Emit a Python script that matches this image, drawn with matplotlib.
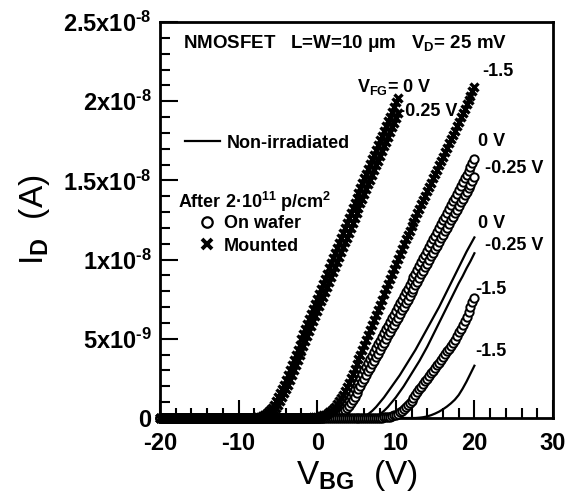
import numpy as np
import matplotlib
matplotlib.use('Agg')
import matplotlib.pyplot as plt
from matplotlib.lines import Line2D
from matplotlib.ticker import MultipleLocator

plt.rcParams['font.family'] = 'Liberation Sans'
plt.rcParams['font.weight'] = 'bold'
plt.rcParams['axes.unicode_minus'] = False
plt.rcParams['mathtext.fontset'] = 'custom'
plt.rcParams['mathtext.rm'] = 'Liberation Sans:bold'
plt.rcParams['mathtext.it'] = 'Liberation Sans:bold'
plt.rcParams['mathtext.bf'] = 'Liberation Sans:bold'
plt.rcParams['mathtext.sf'] = 'Liberation Sans:bold'

# V_BG sweep starts at -20 V; I_D is ~0 before the first listed value
V_START = -20.0
STEP_SYM = 0.25   # symbol curves
STEP_LINE = 0.5   # non-irradiated curves

# I_D in nA, listed from the given start voltage upward
mounted_0_start = -8.0
mounted_0 = [0.02, 0.03, 0.05, 0.08, 0.12, 0.18, 0.26, 0.36, 0.5, 0.66, 0.85, 1.06,
             1.3, 1.55, 1.82, 2.1, 2.4, 2.72, 3.04, 3.36, 3.68, 4.0, 4.32, 4.64,
             4.96, 5.28, 5.6, 5.92, 6.24, 6.56, 6.88, 7.2, 7.52, 7.84, 8.16, 8.48,
             8.8, 9.12, 9.44, 9.76, 10.08, 10.4, 10.72, 11.04, 11.36, 11.68, 12.0, 12.32,
             12.64, 12.96, 13.28, 13.6, 13.92, 14.22, 14.52, 14.82, 15.12, 15.42, 15.72, 16.02,
             16.32, 16.62, 16.92, 17.22, 17.52, 17.82, 18.12, 18.42, 18.72, 19.02, 19.32, 19.62,
             19.92, 20.2]

mounted_025_start = -7.5
mounted_025 = [0.02, 0.03, 0.05, 0.08, 0.12, 0.18, 0.26, 0.36, 0.5, 0.66, 0.85, 1.06,
               1.3, 1.55, 1.82, 2.1, 2.4, 2.71, 3.02, 3.33, 3.64, 3.95, 4.26, 4.57,
               4.88, 5.19, 5.5, 5.81, 6.12, 6.43, 6.74, 7.05, 7.36, 7.67, 7.98, 8.29,
               8.6, 8.91, 9.22, 9.53, 9.84, 10.15, 10.46, 10.77, 11.08, 11.39, 11.7, 12.01,
               12.32, 12.63, 12.94, 13.25, 13.55, 13.85, 14.15, 14.45, 14.75, 15.05, 15.35, 15.65,
               15.95, 16.25, 16.55, 16.85, 17.15, 17.45, 17.75, 18.05, 18.35, 18.65, 18.95, 19.25]

mounted_15_start = -1.0
mounted_15 = [0.02, 0.03, 0.04, 0.05, 0.07, 0.09, 0.12, 0.16, 0.21, 0.27, 0.35, 0.45,
              0.57, 0.71, 0.87, 1.05, 1.25, 1.47, 1.7, 1.95, 2.2, 2.5, 2.8, 3.1,
              3.4, 3.7, 4.0, 4.3, 4.6, 4.92, 5.24, 5.56, 5.88, 6.2, 6.52, 6.84,
              7.16, 7.48, 7.8, 8.12, 8.44, 8.76, 9.08, 9.4, 9.72, 10.04, 10.36, 10.68,
              11.0, 11.28, 11.55, 11.83, 12.1, 12.38, 12.65, 12.93, 13.2, 13.48, 13.75, 14.03,
              14.3, 14.58, 14.85, 15.13, 15.4, 15.68, 15.95, 16.23, 16.5, 16.78, 17.05, 17.33,
              17.6, 17.88, 18.15, 18.43, 18.7, 18.98, 19.25, 19.53, 19.8, 20.08, 20.35, 20.63,
              20.9]

wafer_0_start = 0.0
wafer_0 = [0.02, 0.03, 0.04, 0.05, 0.07, 0.09, 0.12, 0.15, 0.19, 0.24, 0.31, 0.4,
           0.5, 0.62, 0.76, 0.93, 1.12, 1.36, 1.59, 1.83, 2.06, 2.3, 2.53, 2.77,
           3.0, 3.24, 3.47, 3.71, 3.94, 4.18, 4.41, 4.65, 4.88, 5.12, 5.35, 5.59,
           5.82, 6.06, 6.29, 6.53, 6.76, 7.0, 7.23, 7.47, 7.7, 7.94, 8.17, 8.41,
           8.64, 8.88, 9.12, 9.36, 9.6, 9.84, 10.08, 10.32, 10.56, 10.8, 11.04, 11.28,
           11.52, 11.76, 12.0, 12.24, 12.48, 12.72, 12.96, 13.2, 13.44, 13.68, 13.92, 14.16,
           14.4, 14.64, 14.88, 15.12, 15.36, 15.6, 15.84, 16.08, 16.32]

wafer_025_start = 0.5
wafer_025 = [0.02, 0.03, 0.04, 0.05, 0.07, 0.09, 0.12, 0.15, 0.19, 0.24, 0.31, 0.4,
             0.5, 0.62, 0.76, 0.93, 1.12, 1.35, 1.57, 1.8, 2.03, 2.26, 2.48, 2.71,
             2.94, 3.16, 3.39, 3.62, 3.84, 4.07, 4.3, 4.53, 4.75, 4.98, 5.21, 5.43,
             5.66, 5.89, 6.11, 6.34, 6.57, 6.8, 7.02, 7.25, 7.48, 7.7, 7.93, 8.16,
             8.38, 8.61, 8.84, 9.07, 9.29, 9.52, 9.75, 9.97, 10.2, 10.43, 10.65, 10.88,
             11.11, 11.34, 11.56, 11.79, 12.02, 12.24, 12.47, 12.7, 12.92, 13.15, 13.38, 13.61,
             13.83, 14.06, 14.29, 14.51, 14.74, 14.97, 15.2]

wafer_15_start = 8.0
wafer_15 = [0.02, 0.03, 0.04, 0.05, 0.07, 0.09, 0.12, 0.16, 0.2, 0.27, 0.35, 0.45,
            0.55, 0.67, 0.8, 0.95, 1.1, 1.27, 1.45, 1.62, 1.8, 1.97, 2.14, 2.31,
            2.48, 2.65, 2.82, 2.99, 3.16, 3.33, 3.5, 3.68, 3.85, 4.02, 4.2, 4.38,
            4.55, 4.75, 4.95, 5.17, 5.4, 5.65, 5.9, 6.15, 6.4, 6.7, 7.0, 7.3,
            7.6]

nonirr_0_start = 5.0
nonirr_0 = [0.02, 0.05, 0.1, 0.25, 0.45, 0.7, 1.0, 1.3, 1.65, 2.0, 2.35, 2.7,
            3.1, 3.5, 3.9, 4.3, 4.75, 5.2, 5.65, 6.1, 6.55, 7.0, 7.5, 8.0,
            8.5, 9.0, 9.5, 10.0, 10.5, 10.95, 11.4]

nonirr_025_start = 6.5
nonirr_025 = [0.02, 0.05, 0.1, 0.25, 0.45, 0.7, 1.0, 1.3, 1.65, 2.0, 2.4, 2.8,
              3.2, 3.6, 4.05, 4.5, 5.0, 5.5, 6.0, 6.5, 7.0, 7.5, 8.0, 8.5,
              8.95, 9.45, 9.9, 10.4]

nonirr_15_start = 13.0
nonirr_15 = [0.02, 0.05, 0.1, 0.18, 0.28, 0.4, 0.55, 0.72, 0.92, 1.15, 1.45, 1.85,
             2.3, 2.8, 3.3]

y_tick_vals = [0, 5e-9, 1e-8, 1.5e-8, 2e-8, 2.5e-8]
y_tick_labels = ['0', '5x10$^{\u20109}$', '1x10$^{\u20108}$', '1.5x10$^{\u20108}$',
                 '2x10$^{\u20108}$', '2.5x10$^{\u20108}$']


def sweep(start, values, step):
    x_off = np.arange(V_START, start - step / 2, step)
    x_on = start + step * np.arange(len(values))
    x = np.concatenate([x_off, x_on])
    y = np.concatenate([np.zeros(len(x_off)), np.array(values)]) * 1e-9
    return x, y


W, H = 582, 492
fig = plt.figure(figsize=(W / 100, H / 100), dpi=100)
ax = fig.add_axes([160 / W, 1 - 418 / H, 393 / W, 396 / H])


def fpos(px, py):
    return px / W, 1 - py / H


# non-irradiated: lines
for start, vals in [(nonirr_0_start, nonirr_0), (nonirr_025_start, nonirr_025),
                    (nonirr_15_start, nonirr_15)]:
    x, y = sweep(start, vals, STEP_LINE)
    ax.plot(x, y, color='black', lw=1.6, clip_on=False, zorder=3)

# on wafer: open circles
for start, vals in [(wafer_0_start, wafer_0), (wafer_025_start, wafer_025),
                    (wafer_15_start, wafer_15)]:
    x, y = sweep(start, vals, STEP_SYM)
    ax.plot(x, y, ls='none', marker='o', ms=6, mfc='white', mec='black', mew=1.4,
            clip_on=False, zorder=4)

# mounted: crosses
for start, vals in [(mounted_0_start, mounted_0), (mounted_025_start, mounted_025),
                    (mounted_15_start, mounted_15)]:
    x, y = sweep(start, vals, STEP_SYM)
    ax.plot(x, y, ls='none', marker='x', ms=6, mec='black', mew=2.4,
            clip_on=False, zorder=5)

ax.set_xlim(-20, 30)
ax.set_ylim(0, 2.5e-8)
ax.xaxis.set_major_locator(MultipleLocator(10))
ax.xaxis.set_minor_locator(MultipleLocator(2))
ax.set_yticks(y_tick_vals)
ax.set_yticklabels(y_tick_labels)
ax.yaxis.set_minor_locator(MultipleLocator(1e-9))
ax.tick_params(which='both', direction='in', top=False, right=False, width=1.5)
ax.tick_params(which='major', length=13)
ax.tick_params(which='minor', length=7)
ax.tick_params(axis='x', labelsize=17, pad=10)
ax.tick_params(axis='y', labelsize=17, pad=6)
for s in ax.spines.values():
    s.set_linewidth(2)

ax.set_xlabel('V$_{BG}$  (V)', fontsize=24)
ax.set_ylabel('I$_D$  (A)', fontsize=24)
ax.xaxis.set_label_coords(0.5, -0.1)
ax.yaxis.set_label_coords(-0.275, 0.5)

# annotations
fig.text(*fpos(183, 43), 'NMOSFET   L=W=10 \u03bcm   V$_D$= 25 mV', fontsize=13.5, va='center', ha='left')
fig.text(*fpos(357, 87), 'V$_{FG}$= 0 V', fontsize=13, va='center', ha='left')
fig.text(*fpos(399, 111), '-0.25 V', fontsize=13, va='center', ha='left')
fig.text(*fpos(482, 72), '-1.5', fontsize=13, va='center', ha='left')
fig.text(*fpos(478, 142), '0 V', fontsize=13, va='center', ha='left')
fig.text(*fpos(485, 168), '-0.25 V', fontsize=13, va='center', ha='left')
fig.text(*fpos(478, 223), '0 V', fontsize=13, va='center', ha='left')
fig.text(*fpos(485, 245), '-0.25 V', fontsize=13, va='center', ha='left')
fig.text(*fpos(475, 289), '-1.5', fontsize=13, va='center', ha='left')
fig.text(*fpos(475, 352), '-1.5', fontsize=13, va='center', ha='left')
fig.text(*fpos(178, 202), 'After 2\u00b710$^{11}$ p/cm$^{2}$', fontsize=13, va='center', ha='left')

# legends
h_line = Line2D([], [], color='black', lw=1.6)
leg1 = fig.legend([h_line], ['Non-irradiated'], loc='center left', bbox_to_anchor=fpos(185, 143),
                  frameon=False, borderpad=0, borderaxespad=0, handlelength=1.95,
                  handletextpad=0.35, prop={'size': 13, 'weight': 'bold'})
h_o = Line2D([], [], ls='none', marker='o', ms=7.5, mfc='white', mec='black', mew=1.6)
h_x = Line2D([], [], ls='none', marker='x', ms=7, mec='black', mew=2.8)
leg2 = fig.legend([h_o, h_x], ['On wafer', 'Mounted'], loc='center left', bbox_to_anchor=fpos(198, 235),
                  frameon=False, borderpad=0, borderaxespad=0, handlelength=1.0,
                  handletextpad=0.45, labelspacing=0.3, prop={'size': 13, 'weight': 'bold'})

fig.savefig('out.png', dpi=100)
